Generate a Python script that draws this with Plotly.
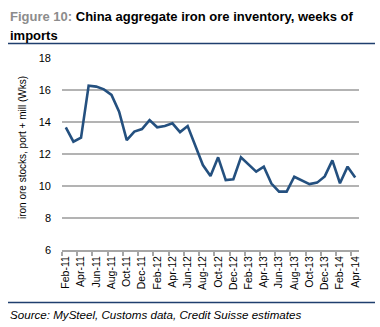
import plotly.graph_objects as go

months = ["Feb-11","Mar-11","Apr-11","May-11","Jun-11","Jul-11","Aug-11","Sep-11","Oct-11","Nov-11","Dec-11",
          "Jan-12","Feb-12","Mar-12","Apr-12","May-12","Jun-12","Jul-12","Aug-12","Sep-12","Oct-12","Nov-12","Dec-12",
          "Jan-13","Feb-13","Mar-13","Apr-13","May-13","Jun-13","Jul-13","Aug-13","Sep-13","Oct-13","Nov-13","Dec-13",
          "Jan-14","Feb-14","Mar-14","Apr-14"]
weeks = [13.67,12.77,13.02,16.27,16.21,16.04,15.69,14.65,12.87,13.40,13.56,
         14.12,13.67,13.75,13.92,13.37,13.75,12.55,11.31,10.62,11.79,10.37,10.42,
         11.79,11.33,10.90,11.21,10.15,9.65,9.65,10.58,10.37,10.12,10.21,10.60,
         11.60,10.17,11.21,10.53]
yticks = [6, 8, 10, 12, 14, 16, 18]

L, R, T, B = 62, 21, 58, 77
W, H = 380, 327
pw, ph = W - L - R, H - T - B

def px(x):
    return (x - L) / pw

def py(y):
    return (H - B - y) / ph

fig = go.Figure()
fig.add_trace(go.Scatter(x=months, y=weeks, mode="lines",
                         line=dict(color="#24507f", width=2.6), hoverinfo="skip"))

fig.update_layout(
    width=W, height=H, margin=dict(l=L, r=R, t=T, b=B),
    paper_bgcolor="white", plot_bgcolor="white", showlegend=False,
    font=dict(family="Liberation Sans, Arial, sans-serif", color="black"),
    xaxis=dict(type="category", categoryorder="array", categoryarray=months,
               range=[-0.5, len(months) - 0.5], dtick=2, tick0=0,
               tickson="boundaries", ticks="outside", ticklen=4, tickwidth=1.5,
               tickcolor="#a6a6a6", tickangle=-90, tickfont=dict(size=10.5),
               showline=True, linecolor="#a6a6a6", linewidth=2, showgrid=False,
               zeroline=False),
    yaxis=dict(range=[6, 18], tickvals=yticks, showgrid=True, gridcolor="#b3b3b3",
               gridwidth=2, zeroline=False, showline=False, ticks="",
               ticklabelstandoff=10, tickfont=dict(size=11)),
)

fig.add_annotation(xref="paper", yref="paper", x=px(8), y=py(16), xanchor="left", yanchor="middle",
                   text="<b><span style='color:#8c8c8c'>Figure 10:</span> China aggregate iron ore inventory, weeks of</b>",
                   showarrow=False, font=dict(size=13, color="black"))
fig.add_annotation(xref="paper", yref="paper", x=px(8), y=py(35.5), xanchor="left", yanchor="middle",
                   text="<b>imports</b>", showarrow=False,
                   font=dict(size=13, color="black"))
fig.add_annotation(xref="paper", yref="paper", x=px(22), y=py(148), xanchor="center", yanchor="middle",
                   text="iron ore stocks, port + mill (Wks)", textangle=-90, showarrow=False,
                   font=dict(size=10, color="black"))
fig.add_annotation(xref="paper", yref="paper", x=px(8), y=py(314), xanchor="left", yanchor="middle",
                   text="<i>Source: MySteel, Customs data, Credit Suisse estimates</i>", showarrow=False,
                   font=dict(size=11.6, color="black"))

fig.add_shape(type="line", xref="paper", yref="paper", x0=px(8), x1=px(375), y0=py(43.5), y1=py(43.5),
              line=dict(color="#1f3f6e", width=1.5))
fig.add_shape(type="line", xref="paper", yref="paper", x0=px(8), x1=px(375), y0=py(302.5), y1=py(302.5),
              line=dict(color="#1f3f6e", width=1.5))

fig.write_html("out.html")
